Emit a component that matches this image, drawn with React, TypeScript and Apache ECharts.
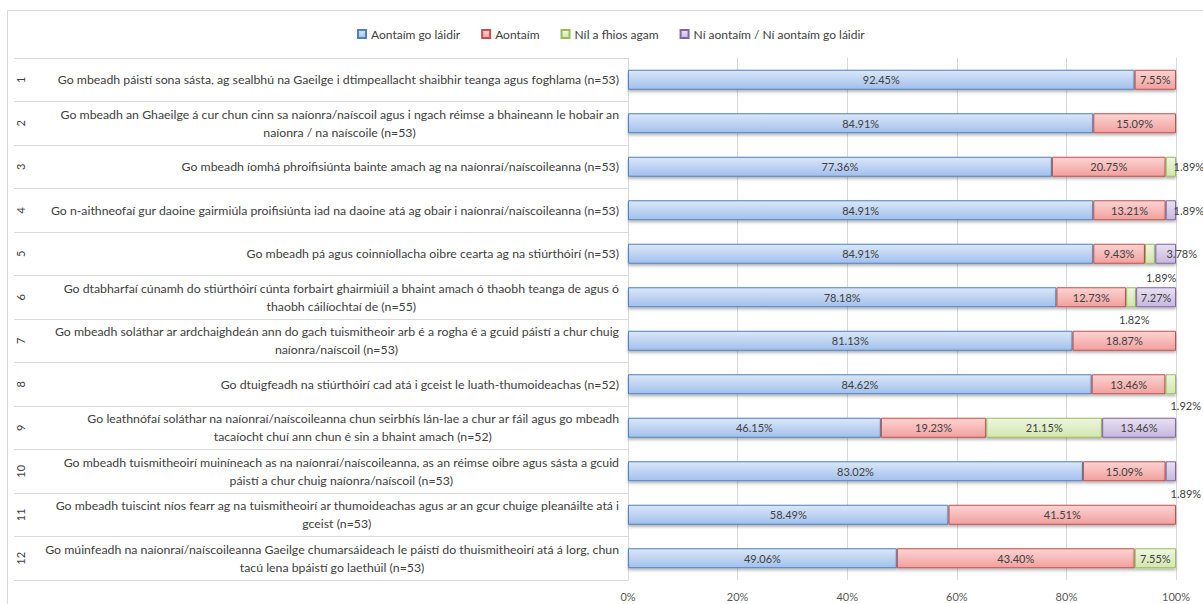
import React, { useEffect, useRef } from "react";
import * as echarts from "echarts";

const seriesNames = [
  "Aontaím go láidir",
  "Aontaím",
  "Níl a fhios agam",
  "Ní aontaím / Ní aontaím go láidir",
];

const rowNumbers = ["1", "2", "3", "4", "5", "6", "7", "8", "9", "10", "11", "12"];

const categories = [
  "Go mbeadh páistí sona sásta, ag sealbhú na Gaeilge i dtimpeallacht shaibhir teanga agus foghlama (n=53)",
  "Go mbeadh an Ghaeilge á cur chun cinn sa naíonra/naíscoil agus i ngach réimse a bhaineann le hobair an\nnaíonra / na naíscoile (n=53)",
  "Go mbeadh íomhá phroifisiúnta bainte amach ag na naíonraí/naíscoileanna (n=53)",
  "Go n-aithneofaí gur daoine gairmiúla proifisiúnta iad na daoine atá ag obair i naíonraí/naíscoileanna (n=53)",
  "Go mbeadh pá agus coinníollacha oibre cearta ag na stiúrthóirí (n=53)",
  "Go dtabharfaí cúnamh do stiúrthóirí cúnta forbairt ghairmiúil a bhaint amach ó thaobh teanga de agus ó\nthaobh cáilíochtaí de (n=55)",
  "Go mbeadh soláthar ar ardchaighdeán ann do gach tuismitheoir arb é a rogha é a gcuid páistí a chur chuig\nnaíonra/naíscoil (n=53)",
  "Go dtuigfeadh na stiúrthóirí cad atá i gceist le luath-thumoideachas (n=52)",
  "Go leathnófaí soláthar na naíonraí/naíscoileanna chun seirbhís lán-lae a chur ar fáil agus go mbeadh\ntacaíocht chuí ann chun é sin a bhaint amach (n=52)",
  "Go mbeadh tuismitheoirí muiníneach as na naíonraí/naíscoileanna, as an réimse oibre agus sásta a gcuid\npáistí a chur chuig naíonra/naíscoil (n=53)",
  "Go mbeadh tuiscint níos fearr ag na tuismitheoirí ar thumoideachas agus ar an gcur chuige pleanáilte atá i\ngceist (n=53)",
  "Go múinfeadh na naíonraí/naíscoileanna Gaeilge chumarsáideach le páistí do thuismitheoirí atá á lorg, chun\ntacú lena bpáistí go laethúil (n=53)",
];

const stronglyAgree = [92.45, 84.91, 77.36, 84.91, 84.91, 78.18, 81.13, 84.62, 46.15, 83.02, 58.49, 49.06];
const agree = [7.55, 15.09, 20.75, 13.21, 9.43, 12.73, 18.87, 13.46, 19.23, 15.09, 41.51, 43.4];
const dontKnow = [0, 0, 1.89, 0, 1.89, 1.82, 0, 1.92, 21.15, 0, 0, 7.55];
const disagree = [0, 0, 0, 1.89, 3.78, 7.27, 0, 0, 13.46, 1.89, 0, 0];

// label nudges for tiny segments: "seriesIndex-rowIndex" -> [dx, dy]
const labelNudges: Record<string, [number, number]> = {
  "2-2": [18, 0],
  "3-3": [18, 0],
  "2-4": [11, 24],
  "3-4": [16, 0],
  "2-5": [3, 22],
  "2-7": [15, 21],
  "3-9": [15, 22],
};

const styles = [
  { border: "#4F81BD", top: "#dbe7f8", bottom: "#a2c0ec" },
  { border: "#C0504D", top: "#fcd4d3", bottom: "#f1a09e" },
  { border: "#9BBB59", top: "#eff6e2", bottom: "#d1e6ad" },
  { border: "#8064A2", top: "#e8e1f1", bottom: "#c6b8de" },
];

const FONT = "Lato";
const CAT_SIZE = 12.3;
const HALF_LINE = 9;
const LABEL_MARGIN = 9;
const GRID = { left: 628, right: 27, top: 58, bottom: 24 };

export default function App() {
  const ref = useRef<HTMLDivElement>(null);
  useEffect(() => {
    if (!ref.current) return;
    const chart = echarts.init(ref.current, null, { renderer: "svg" });
    const ctx = document.createElement("canvas").getContext("2d")!;
    ctx.font = `${CAT_SIZE}px ${FONT}`;

    const split = categories.map((c) => c.split("\n"));
    const singleLines = split.map((l) => (l.length === 1 ? l[0] : ""));
    const firstLines = split.map((l) => (l.length > 1 ? l[0] : ""));

    const catLabel = {
      interval: 0,
      margin: LABEL_MARGIN,
      color: "#404040",
      fontSize: CAT_SIZE,
      fontFamily: FONT,
    };

    const all = [stronglyAgree, agree, dontKnow, disagree];
    const series = all.map((arr, si) => ({
      name: seriesNames[si],
      type: "bar",
      stack: "total",
      barWidth: 20,
      xAxisIndex: 0,
      yAxisIndex: 0,
      itemStyle: {
        color: new echarts.graphic.LinearGradient(0, 0, 0, 1, [
          { offset: 0, color: styles[si].top },
          { offset: 1, color: styles[si].bottom },
        ]),
        borderColor: styles[si].border,
        borderWidth: 1,
        shadowColor: "rgba(0,0,0,0.3)",
        shadowBlur: 3,
        shadowOffsetY: 2,
      },
      label: {
        show: true,
        position: "inside",
        color: "#404040",
        fontSize: 11,
        fontFamily: FONT,
        formatter: (p: any) => (p.value > 0 ? p.value.toFixed(2) + "%" : ""),
      },
      data: arr.map((v, ri) => {
        if (v === 0) return "-";
        const n = labelNudges[si + "-" + ri];
        return n ? { value: v, label: { offset: n } } : v;
      }),
    }));

    const frame = {
      type: "rect",
      shape: { x: 7.5, y: 10.5, width: 1200, height: 600 },
      style: { fill: "none", stroke: "#d9d9d9", lineWidth: 1 },
      silent: true,
    };

    chart.setOption({
      animation: false,
      textStyle: { fontFamily: FONT },
      legend: {
        top: 23,
        left: 352,
        itemWidth: 8,
        itemHeight: 8,
        itemGap: 21,
        icon: "rect",
        textStyle: { fontSize: 12, color: "#404040", fontFamily: FONT },
        data: seriesNames,
      },
      graphic: [frame],
      grid: [
        GRID,
        { ...GRID, top: GRID.top - HALF_LINE, bottom: GRID.bottom + HALF_LINE },
      ],
      xAxis: [
        {
          type: "value",
          gridIndex: 0,
          min: 0,
          max: 100,
          interval: 20,
          axisLine: { show: false },
          axisTick: { show: false },
          splitLine: { lineStyle: { color: "#d9d9d9" } },
          axisLabel: {
            formatter: "{value}%",
            color: "#595959",
            fontSize: 11,
            margin: 11,
            fontFamily: FONT,
          },
        },
        { type: "value", gridIndex: 1, min: 0, max: 100, show: false },
      ],
      yAxis: [
        {
          type: "category",
          gridIndex: 0,
          inverse: true,
          data: singleLines,
          axisLine: { show: true, lineStyle: { color: "#d9d9d9" } },
          axisTick: { show: true, length: 614, lineStyle: { color: "#d9d9d9" } },
          axisLabel: catLabel,
        },
        {
          type: "category",
          gridIndex: 0,
          inverse: true,
          position: "left",
          data: rowNumbers,
          axisLine: { show: false },
          axisTick: { show: false },
          axisLabel: {
            interval: 0,
            rotate: 90,
            margin: 602,
            color: "#404040",
            fontSize: 11,
            fontFamily: FONT,
          },
        },
        {
          type: "category",
          gridIndex: 1,
          inverse: true,
          position: "left",
          data: firstLines,
          axisLine: { show: false },
          axisTick: { show: false },
          axisLabel: catLabel,
        },
      ],
      series,
    });

    // second lines of wrapped labels: centred under the first line, half a line below the row centre
    const labelRight = GRID.left - LABEL_MARGIN;
    const secondTexts: any[] = [];
    split.forEach((l, ri) => {
      if (l.length === 1) return;
      const w1 = ctx.measureText(l[0]).width;
      const yc = chart.convertToPixel({ yAxisIndex: 0 } as any, ri) as number;
      secondTexts.push({
        type: "text",
        x: labelRight - w1 / 2,
        y: yc + HALF_LINE,
        silent: true,
        style: {
          text: l[1],
          fill: "#404040",
          font: `${CAT_SIZE}px ${FONT}`,
          align: "center",
          verticalAlign: "middle",
        },
      });
    });
    chart.setOption({ graphic: [frame, ...secondTexts] });

    return () => chart.dispose();
  }, []);
  return (
    <div
      ref={ref}
      style={{ position: "fixed", left: 0, top: 0, width: 1203, height: 604, background: "#fff" }}
    />
  );
}
